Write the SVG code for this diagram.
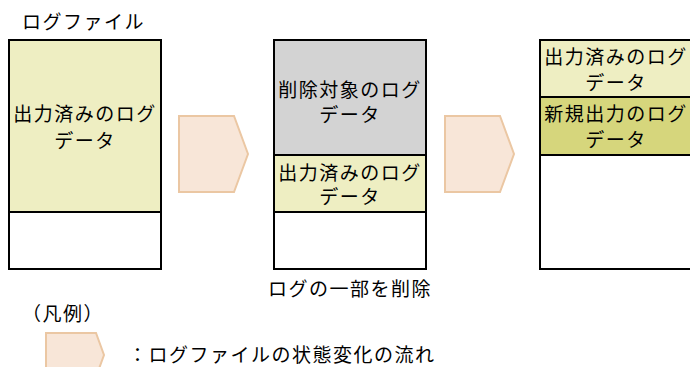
<svg xmlns="http://www.w3.org/2000/svg" width="690" height="367" viewBox="0 0 690 367">
<style>
text{font-family:"Noto Sans CJK JP","Liberation Sans",sans-serif;font-size:19px;fill:#000;letter-spacing:1.5px}
.c{text-anchor:middle;dominant-baseline:central}
.box{stroke:#000;stroke-width:2}
.y1{fill:#EEEEC2}
.y2{fill:#D6D67C}
.g{fill:#D3D3D3}
.w{fill:#FFFFFF}
.arr{fill:#F8E6D8;stroke:#EBC7A3;stroke-width:2}
</style>
<rect width="690" height="367" fill="#fff"/>
<text x="22" y="20" style="dominant-baseline:central">ログファイル</text>
<g id="file1">
<rect class="box y1" x="9" y="40" width="152" height="172"/>
<rect class="box w" x="9" y="212" width="152" height="57"/>
<text class="c" x="85" y="112">出力済みのログ</text>
<text class="c" x="85" y="139">データ</text>
</g>
<g id="file2">
<rect class="box g" x="274" y="40" width="152" height="115"/>
<rect class="box y1" x="274" y="155" width="152" height="57"/>
<rect class="box w" x="274" y="212" width="152" height="57"/>
<text class="c" x="350" y="88">削除対象のログ</text>
<text class="c" x="350" y="113">データ</text>
<text class="c" x="350" y="171">出力済みのログ</text>
<text class="c" x="350" y="195">データ</text>
<text class="c" x="350" y="287">ログの一部を削除</text>
</g>
<g id="file3">
<rect class="box y1" x="540" y="40" width="152" height="57"/>
<rect class="box y2" x="540" y="97" width="152" height="58"/>
<rect class="box w" x="540" y="155" width="152" height="114"/>
<text class="c" x="616" y="55">出力済みのログ</text>
<text class="c" x="616" y="81">データ</text>
<text class="c" x="616" y="112">新規出力のログ</text>
<text class="c" x="616" y="138">データ</text>
</g>
<g id="connectors">
<polygon class="arr" points="179,116 234,116 248,154 234,192 179,192"/>
<polygon class="arr" points="445,116 500,116 514,154 500,192 445,192"/>
</g>
<g id="legend">
<text x="22" y="312" style="dominant-baseline:central">（凡例）</text>
<polygon class="arr" points="46,333 96,333 104,355 96,377 46,377"/>
<text x="128" y="353" style="dominant-baseline:central">：ログファイルの状態変化の流れ</text>
</g>
</svg>
